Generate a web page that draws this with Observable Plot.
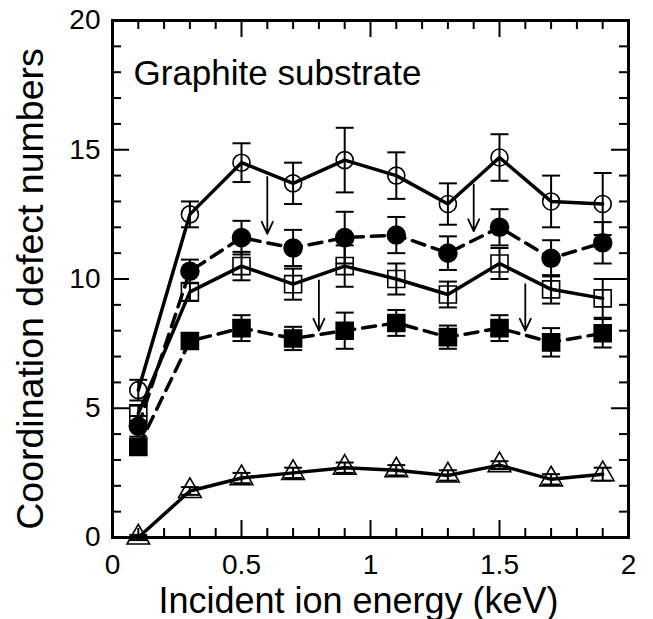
<!DOCTYPE html>
<html>
<head>
<meta charset="utf-8">
<script src="https://cdn.jsdelivr.net/npm/d3@7"></script>
<script src="https://cdn.jsdelivr.net/npm/@observablehq/plot@0.6"></script>
<style>
  html, body { margin: 0; padding: 0; background: white; }
</style>
</head>
<body>
<div id="chart"></div>
<script>
// Data
const energy = [0.1, 0.3, 0.5, 0.7, 0.9, 1.1, 1.3, 1.5, 1.7, 1.9];

const openCircle     = [5.7, 12.5, 14.5, 13.7, 14.6, 14.0, 12.9, 14.7, 13.0, 12.9];
const openCircleErr  = [0.4, 0.5, 0.75, 0.8, 1.25, 0.9, 0.8, 0.9, 1.0, 1.2];
const filledCircle    = [4.3, 10.3, 11.6, 11.2, 11.6, 11.7, 11.0, 12.0, 10.8, 11.4];
const filledCircleErr = [0.4, 0.45, 0.65, 0.7, 1.0, 0.7, 0.65, 0.7, 0.7, 0.8];
const openSquare     = [4.8, 9.5, 10.5, 9.8, 10.5, 10.0, 9.4, 10.6, 9.6, 9.25];
const openSquareErr  = [0.3, 0.35, 0.55, 0.6, 0.8, 0.6, 0.5, 0.6, 0.55, 0.75];
const filledSquare    = [3.5, 7.6, 8.1, 7.7, 8.0, 8.3, 7.75, 8.1, 7.55, 7.9];
const filledSquareErr = [0.3, 0.3, 0.5, 0.45, 0.7, 0.5, 0.45, 0.5, 0.55, 0.55];
const triangle    = [0.0, 1.8, 2.3, 2.5, 2.7, 2.6, 2.4, 2.8, 2.25, 2.45];
const triangleErr = [0.1, 0.15, 0.2, 0.2, 0.2, 0.2, 0.2, 0.15, 0.2, 0.25];

// Arrows (x position, start value, end value)
const arrowX    = [0.6, 0.8, 1.4, 1.6];
const arrowFrom = [13.95, 9.95, 13.65, 9.8];
const arrowTo   = [11.75, 8.0, 11.85, 8.0];

// Tick values and labels
const xMajor = [0, 0.5, 1, 1.5, 2];
const xMinor = [0.1, 0.2, 0.3, 0.4, 0.6, 0.7, 0.8, 0.9, 1.1, 1.2, 1.3, 1.4, 1.6, 1.7, 1.8, 1.9];
const yMajor = [0, 5, 10, 15, 20];
const yMinor = [1, 2, 3, 4, 6, 7, 8, 9, 11, 12, 13, 14, 16, 17, 18, 19];
const xTickLabels = ["0", "0.5", "1", "1.5", "2"];
const yTickLabels = ["0", "5", "10", "15", "20"];

const xLabel = "Incident ion energy (keV)";
const yLabel = "Coordination defect numbers";
const annotation = "Graphite substrate";

// Series styles
const series = [
  {values: openCircle,   errs: openCircleErr,   symbol: "circle",   fill: "none",  r: 8.5,  dash: null},
  {values: filledCircle, errs: filledCircleErr, symbol: "circle",   fill: "black", r: 9,    dash: "13,8"},
  {values: openSquare,   errs: openSquareErr,   symbol: "square",   fill: "none",  r: 9.6,  dash: null},
  {values: filledSquare, errs: filledSquareErr, symbol: "square",   fill: "black", r: 9.6,  dash: "13,8"},
  {values: triangle,     errs: triangleErr,     symbol: "triangle", fill: "none",  r: 8.4,  dash: null}
];

const capSymbol = {
  draw(context, size) {
    const w = Math.sqrt(size / Math.PI);
    context.moveTo(-w, 0);
    context.lineTo(w, 0);
  }
};

const W = 653, H = 619;
const mL = 112, mR = 25, mT = 20, mB = 82;
const innerW = W - mL - mR, innerH = H - mT - mB;
const FONT = "'Liberation Sans', Arial, Helvetica, sans-serif";

const marks = [];

series.forEach(s => {
  const rows = energy.map((x, i) => ({x, y: s.values[i], e: s.errs[i]}));
  marks.push(Plot.line(rows, {x: "x", y: "y", stroke: "black", strokeWidth: 3.5,
    strokeDasharray: s.dash || undefined, strokeLinejoin: "miter"}));
  marks.push(Plot.ruleX(rows, {x: "x", y1: d => d.y - d.e, y2: d => d.y + d.e, stroke: "black", strokeWidth: 2}));
  marks.push(Plot.dot(rows, {x: "x", y: d => d.y - d.e, symbol: capSymbol, r: 9, stroke: "black", strokeWidth: 2}));
  marks.push(Plot.dot(rows, {x: "x", y: d => d.y + d.e, symbol: capSymbol, r: 9, stroke: "black", strokeWidth: 2}));
  marks.push(Plot.dot(rows, {x: "x", y: "y", symbol: s.symbol, r: s.r, fill: s.fill,
    stroke: "black", strokeWidth: 1.6}));
});

const arrows = arrowX.map((x, i) => ({x, y1: arrowFrom[i], y2: arrowTo[i]}));
marks.push(Plot.arrow(arrows, {x1: "x", x2: "x", y1: "y1", y2: "y2", stroke: "black",
  strokeWidth: 1.8, headLength: 11, headAngle: 50}));

// Inward ticks on all four sides
marks.push(Plot.tickX(xMajor, {x: d => d, insetTop: innerH - 17, stroke: "black", strokeWidth: 2}));
marks.push(Plot.tickX(xMinor, {x: d => d, insetTop: innerH - 9, stroke: "black", strokeWidth: 2}));
marks.push(Plot.tickX(xMajor, {x: d => d, insetBottom: innerH - 17, stroke: "black", strokeWidth: 2}));
marks.push(Plot.tickX(xMinor, {x: d => d, insetBottom: innerH - 9, stroke: "black", strokeWidth: 2}));
marks.push(Plot.tickY(yMajor, {y: d => d, insetRight: innerW - 17, stroke: "black", strokeWidth: 2}));
marks.push(Plot.tickY(yMinor, {y: d => d, insetRight: innerW - 9, stroke: "black", strokeWidth: 2}));
marks.push(Plot.tickY(yMajor, {y: d => d, insetLeft: innerW - 17, stroke: "black", strokeWidth: 2}));
marks.push(Plot.tickY(yMinor, {y: d => d, insetLeft: innerW - 9, stroke: "black", strokeWidth: 2}));

marks.push(Plot.frame({stroke: "black", strokeWidth: 3}));

marks.push(Plot.axisX(xMajor, {anchor: "bottom", tickSize: 0, tickPadding: 17, fontSize: 28,
  tickFormat: (d, i) => xTickLabels[i], label: null, fill: "black"}));
marks.push(Plot.axisY(yMajor, {anchor: "left", tickSize: 0, tickPadding: 12, fontSize: 28,
  tickFormat: (d, i) => yTickLabels[i], label: null, fill: "black"}));

marks.push(Plot.text([xLabel], {frameAnchor: "bottom", dx: -12, dy: 75, text: d => d, fontSize: 36,
  lineAnchor: "bottom", textAnchor: "middle", fill: "black"}));
marks.push(Plot.text([yLabel], {frameAnchor: "left", dx: -70, dy: 10, rotate: -90, text: d => d,
  fontSize: 37.5, lineAnchor: "bottom", textAnchor: "middle", fill: "black"}));
marks.push(Plot.text([annotation], {frameAnchor: "top-left", dx: 21, dy: 64, text: d => d,
  fontSize: 35, lineAnchor: "bottom", textAnchor: "start", fill: "black"}));

const chart = Plot.plot({
  width: W, height: H,
  marginLeft: mL, marginRight: mR, marginTop: mT, marginBottom: mB,
  x: {domain: [0, 2]},
  y: {domain: [0, 20]},
  style: {fontFamily: FONT, background: "white", color: "black"},
  marks
});
document.getElementById("chart").appendChild(chart);
</script>
</body>
</html>
